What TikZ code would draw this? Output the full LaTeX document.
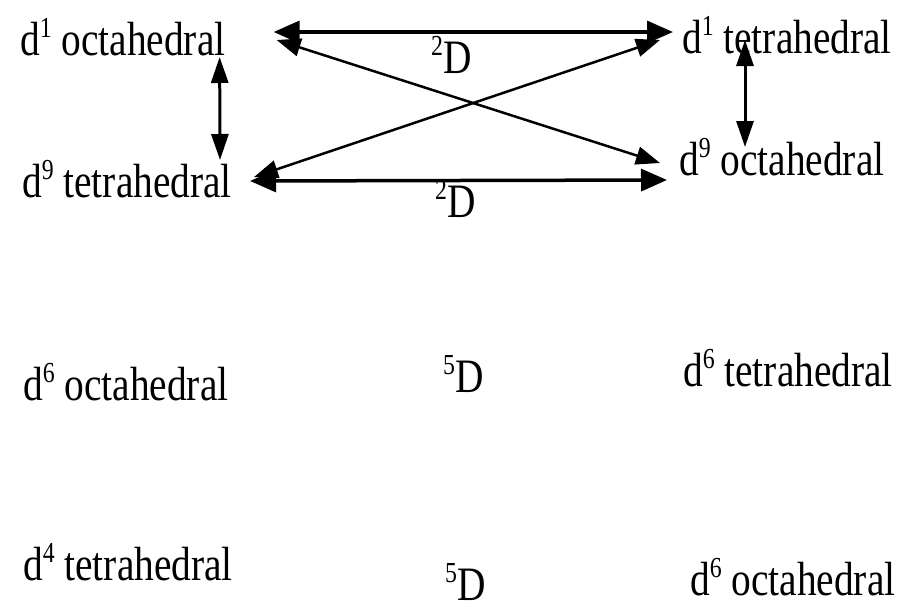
\documentclass[tikz,border=0pt]{standalone}
\usepackage{fontspec}
\setmainfont{Liberation Serif}
\usepackage{tikz}
\usetikzlibrary{arrows.meta,calc}
\newcommand\upidx[1]{\raisebox{0.36em}{\fontsize{29}{30}\selectfont #1}}
\tikzset{
  node-term/.style={inner sep=0pt,anchor=base west,xscale=0.82,
    font=\fontsize{48}{52}\selectfont},
  arrow-bold/.style={{Triangle[length=26pt,width=22pt]}-{Triangle[length=26pt,width=22pt]},line width=3.5pt},
  arrow-diag/.style={{Triangle[length=24pt,width=18pt]}-{Triangle[length=24pt,width=18pt]},line width=2.5pt},
  arrow-vert/.style={{Triangle[length=26pt,width=17pt]}-{Triangle[length=26pt,width=17pt]},line width=3pt},
}
\begin{document}
\begin{tikzpicture}[x=1pt,y=-1pt]
  \useasboundingbox (0,0) rectangle (905,611);
  % 2D pairs
  \node[node-term] (oct1)  at (20,55)  {d\upidx{1} octahedral};
  \node[node-term] (tet1)  at (682,53) {d\upidx{1} tetrahedral};
  \node[node-term] (tet9)  at (22,197) {d\upidx{9} tetrahedral};
  \node[node-term] (oct9)  at (679,175) {d\upidx{9} octahedral};
  \node[node-term] (termA) at (431,73) {\upidx{2}D};
  \node[node-term] (termB) at (435,217) {\upidx{2}D};
  % 5D pairs
  \node[node-term] (oct6)  at (23,400)  {d\upidx{6} octahedral};
  \node[node-term] (termC) at (443,392) {\upidx{5}D};
  \node[node-term] (tet6)  at (683,386) {d\upidx{6} tetrahedral};
  \node[node-term] (tet4)  at (23,580)  {d\upidx{4} tetrahedral};
  \node[node-term] (termD) at (445,600) {\upidx{5}D};
  \node[node-term] (oct6b) at (690,595) {d\upidx{6} octahedral};
  \draw[arrow-bold] ($(oct1.base east)+(48,-23)$) -- ($(tet1.base west)+(-9,-21)$);
  \draw[arrow-bold] ($(tet9.base east)+(18,-16)$) -- ($(oct9.base west)+(-12,5)$);
  \draw[arrow-diag] ($(oct1.base east)+(51,-15)$) -- ($(oct9.base west)+(-19,-12)$);
  \draw[arrow-diag] ($(tet9.base east)+(22,-20)$) -- ($(tet1.base west)+(-22,-13)$);
  \draw[arrow-vert] ($(oct1.base east)+(-6,2)$) -- ($(tet9.base east)+(-12,-37)$);
  \draw[arrow-vert] ($(tet1.base west)+(63,-13)$) -- ($(oct9.base west)+(66,-28)$);
\end{tikzpicture}
\end{document}
